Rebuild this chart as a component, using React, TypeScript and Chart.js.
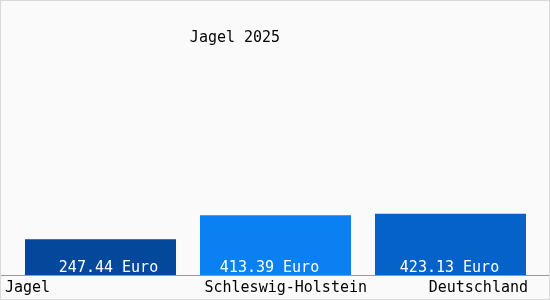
import React, { useEffect, useRef } from "react";
import { Chart, registerables } from "chart.js";

Chart.register(...registerables);

const categories = ["Jagel", "Schleswig-Holstein", "Deutschland"];
const values = [247.44, 413.39, 423.13];
const valueLabels = ["247.44 Euro", "413.39 Euro", "423.13 Euro"];
const barColors = ["#03489a", "#0a80f2", "#0562c8"];
const titleText = "Jagel 2025";
const yMax = 1830;

const FONT = '15px "DejaVu Sans Mono", monospace';

const decor = {
  id: "decor",
  beforeDraw(chart: any) {
    const { ctx, width, height } = chart;
    ctx.save();
    ctx.fillStyle = "#fafafa";
    ctx.fillRect(0, 0, width, height);
    ctx.restore();
  },
  afterDraw(chart: any) {
    const { ctx, width, height, chartArea } = chart;
    const meta = chart.getDatasetMeta(0);
    ctx.save();
    // axis line
    ctx.strokeStyle = "#9a9a9a";
    ctx.lineWidth = 1;
    ctx.beginPath();
    ctx.moveTo(1, Math.round(chartArea.bottom) + 0.5);
    ctx.lineTo(width - 1, Math.round(chartArea.bottom) + 0.5);
    ctx.stroke();
    // border
    ctx.strokeStyle = "#d9d9d9";
    ctx.strokeRect(0.5, 0.5, width - 1, height - 1);
    // title
    ctx.font = FONT;
    ctx.fillStyle = "#000";
    ctx.textBaseline = "middle";
    ctx.textAlign = "center";
    ctx.fillText(titleText, 235, 38);
    // value labels
    ctx.fillStyle = "#ffffff";
    meta.data.forEach((bar: any, i: number) => {
      ctx.textAlign = "center";
      ctx.fillText(valueLabels[i], bar.x + (i === 0 ? 8 : i === 1 ? -6 : -1), chartArea.bottom - 7);
    });
    // category labels
    ctx.fillStyle = "#000";
    meta.data.forEach((bar: any, i: number) => {
      const half = bar.width / 2;
      if (i === 0) {
        ctx.textAlign = "left";
        ctx.fillText(categories[i], bar.x - half - 20, chartArea.bottom + 13);
      } else {
        ctx.textAlign = "right";
        ctx.fillText(categories[i], bar.x + half + (i === 1 ? 16 : 2), chartArea.bottom + 13);
      }
    });
    ctx.restore();
  },
};

export default function App() {
  const ref = useRef<HTMLCanvasElement>(null);
  useEffect(() => {
    const chart = new Chart(ref.current!, {
      type: "bar",
      data: {
        labels: categories,
        datasets: [
          {
            data: values,
            backgroundColor: barColors,
            barPercentage: 0.863,
            categoryPercentage: 1,
          },
        ],
      },
      options: {
        animation: false,
        responsive: false,
        maintainAspectRatio: false,
        layout: { padding: { left: 13, right: 12, top: 10, bottom: 25 } },
        plugins: { legend: { display: false }, tooltip: { enabled: false }, title: { display: false } },
        scales: {
          x: { display: false },
          y: { display: false, min: 0, max: yMax },
        },
      },
      plugins: [decor],
    });
    return () => chart.destroy();
  }, []);
  return (
    <div style={{ position: "fixed", left: 0, top: 0, width: 550, height: 300 }}>
      <canvas ref={ref} width={550} height={300} style={{ width: 550, height: 300 }} />
    </div>
  );
}
